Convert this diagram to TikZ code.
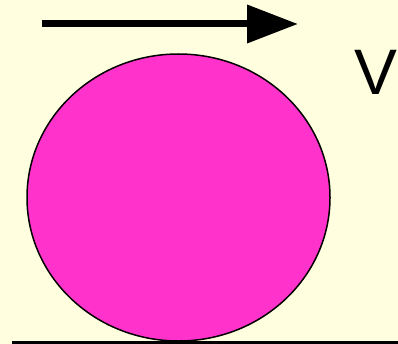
\documentclass[tikz,border=0pt]{standalone}
\usepackage{fontspec}
\setsansfont{Liberation Sans}
\usetikzlibrary{arrows.meta}
\definecolor{paper}{HTML}{FFFFE0}
\definecolor{ballpink}{HTML}{FF33CC}

\begin{document}
\begin{tikzpicture}[x=0.02cm,y=-0.02cm,line cap=butt]
\fill[paper] (0,0) rectangle (398,344);
\useasboundingbox (0,0) rectangle (398,344);
% ball
\draw[fill=ballpink,line width=0.03cm] (178.5,197.5) ellipse [x radius=151.5,y radius=143.5];
% ground
\coordinate (g1) at (12,342);
\coordinate (g2) at (398,342);
\draw[line width=0.06cm] (g1) -- (g2);
% velocity
\coordinate (v1) at (42,24);
\coordinate (v2) at (298,24);
\draw[line width=0.14cm,-{Triangle[length=1.02cm,width=0.74cm]}] (v1) -- (v2);
\node[font=\sffamily\fontsize{36.6}{40}\selectfont,inner sep=0] (vlab) at (376,72) {V};
\end{tikzpicture}
\end{document}
